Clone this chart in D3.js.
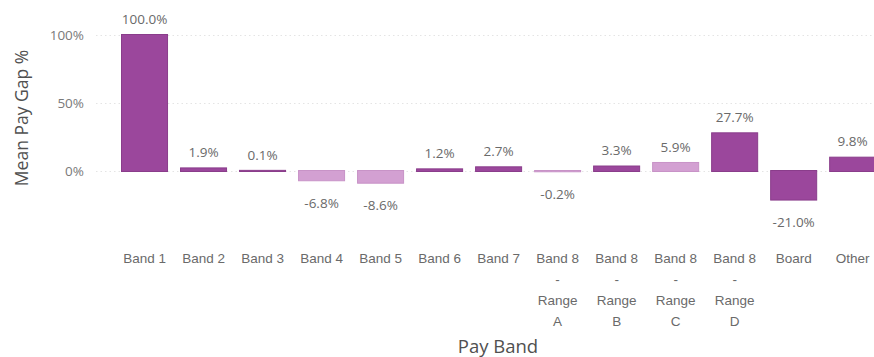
<!DOCTYPE html>
<html>
<head>
<meta charset="utf-8">
<script src="https://cdn.jsdelivr.net/npm/d3@7"></script>
<style>
  html, body { margin: 0; padding: 0; background: #ffffff; }
  svg { display: block; font-family: "Open Sans", "Noto Sans", sans-serif; }
</style>
</head>
<body>
<svg id="chart" width="874" height="357"></svg>
<script>
// Pay bands along the x axis (each entry is the wrapped label lines)
const categories = [
  ["Band 1"], ["Band 2"], ["Band 3"], ["Band 4"], ["Band 5"], ["Band 6"], ["Band 7"],
  ["Band 8", "-", "Range", "A"], ["Band 8", "-", "Range", "B"],
  ["Band 8", "-", "Range", "C"], ["Band 8", "-", "Range", "D"],
  ["Board"], ["Other"]
];
// Mean pay gap per band, in percent
const meanPayGap = [100.0, 1.9, 0.1, -6.8, -8.6, 1.2, 2.7, -0.2, 3.3, 5.9, 27.7, -21.0, 9.8];
// Highlight flag per band: 1 = strong fill, 0 = pale fill
const emphasis = [1, 1, 1, 0, 0, 1, 1, 0, 1, 0, 1, 1, 1];
// Value axis ticks
const yTicks = [0, 50, 100];

const colorStrong = "#9b479c";
const colorPale = "#d3a0d2";

const svg = d3.select("#chart");
const keys = categories.map(c => c.join(" "));

const x = d3.scaleBand()
  .domain(keys)
  .range([115.6, 881.6])
  .paddingInner(0.22)
  .paddingOuter(0.1);

const y = d3.scaleLinear()
  .domain([-30, 110])
  .range([171 + 30 * 1.36, 171 - 110 * 1.36]);

// Dotted gridlines
svg.append("g")
  .selectAll("line")
  .data(yTicks)
  .join("line")
  .attr("x1", 96)
  .attr("x2", 874)
  .attr("y1", d => Math.round(y(d)) + 0.5)
  .attr("y2", d => Math.round(y(d)) + 0.5)
  .attr("stroke", "#e4e4e4")
  .attr("stroke-width", 1)
  .attr("stroke-dasharray", "1.5,3");

// Y axis tick labels
const yAxis = d3.axisLeft(y)
  .tickValues(yTicks)
  .tickFormat(d => d + "%")
  .tickSize(0)
  .tickPadding(0);

svg.append("g")
  .attr("transform", "translate(84,0)")
  .call(yAxis)
  .call(g => g.select(".domain").remove())
  .call(g => g.selectAll("text")
    .attr("fill", "#7a7a7a")
    .attr("font-size", 13.5)
    .attr("font-family", "'Open Sans', sans-serif"));

// Bars
const rows = keys.map((k, i) => ({ key: k, lines: categories[i], value: meanPayGap[i], strong: emphasis[i] }));

svg.append("g")
  .selectAll("rect")
  .data(rows)
  .join("rect")
  .attr("x", d => x(d.key))
  .attr("width", x.bandwidth())
  .attr("y", d => Math.min(y(d.value), y(0)) - 0.5)
  .attr("height", d => Math.abs(y(d.value) - y(0)) + 1)
  .attr("fill", d => d.strong ? colorStrong : colorPale)
  .attr("stroke", d => d.strong ? "#8a3d8b" : "#c893c7")
  .attr("stroke-width", 1);

// Value labels
svg.append("g")
  .selectAll("text")
  .data(rows)
  .join("text")
  .attr("x", d => x(d.key) + x.bandwidth() / 2)
  .attr("y", d => d.value >= 0 ? y(d.value) - 16 : y(d.value) + 23)
  .attr("dy", "0.35em")
  .attr("text-anchor", "middle")
  .attr("font-size", 13.5)
  .attr("fill", "#6a6a6a")
  .text(d => d.value.toFixed(1) + "%");

// Category labels, wrapped onto several lines
const xAxis = d3.axisBottom(x).tickSize(0).tickFormat("");
const xg = svg.append("g")
  .call(xAxis)
  .call(g => g.select(".domain").remove());

xg.selectAll(".tick").each(function (k, i) {
  const t = d3.select(this).append("text")
    .attr("text-anchor", "middle")
    .attr("font-size", 13.5)
    .attr("fill", "#6a6a6a");
  categories[i].forEach((line, j) => {
    t.append("tspan")
      .attr("x", 0)
      .attr("y", 258 + j * 21)
      .attr("dy", "0.35em")
      .text(line);
  });
});

// Axis titles
svg.append("text")
  .attr("transform", "translate(22,118) rotate(-90)")
  .attr("text-anchor", "middle")
  .attr("dy", "0.35em")
  .attr("font-size", 17.5)
  .attr("fill", "#505050")
  .text("Mean Pay Gap %");

svg.append("text")
  .attr("x", 498)
  .attr("y", 347)
  .attr("dy", "0.35em")
  .attr("text-anchor", "middle")
  .attr("font-size", 18.5)
  .attr("fill", "#505050")
  .text("Pay Band");
</script>
</body>
</html>
